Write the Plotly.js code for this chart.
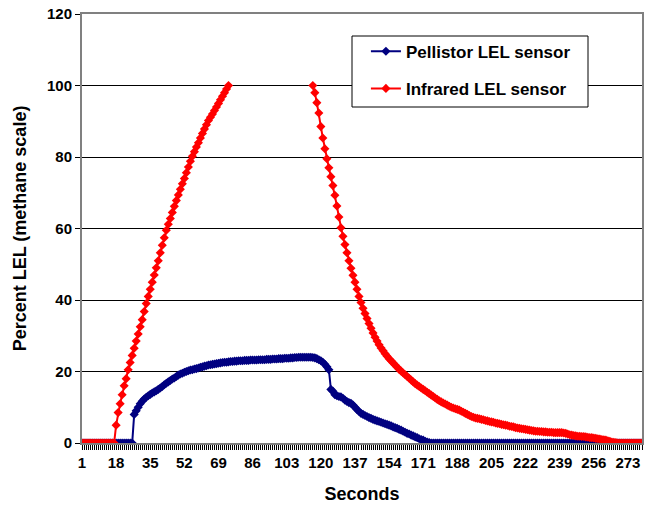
<!DOCTYPE html>
<html>
<head>
<meta charset="utf-8">
<script src="https://cdn.plot.ly/plotly-3.0.1.min.js"></script>
<style>html,body{margin:0;padding:0;background:#fff;}#chart{width:652px;height:506px;}</style>
</head>
<body>
<div id="chart"></div>
<script>
// Tick labels shown on the x axis (seconds)
const xTickLabels = ['1','18','35','52','69','86','103','120','137','154','171','188','205','222','239','256','273'];
const yTickValues = [0,20,40,60,80,100,120];
const seriesNames = ['Pellistor LEL sensor','Infrared LEL sensor'];

// Pellistor LEL sensor, one value per second (1..280)
const pellistor = [
0,0,0,0,0,0,0,0,0,0,
0,0,0,0,0,0,0,0,0,0,
0,0,0,0,0,0,8,9,10,11,
11.7,12.3,12.8,13.2,13.6,14,14.3,14.6,15,15.4,
15.8,16.3,16.7,17.1,17.5,17.9,18.2,18.6,19,19.3,
19.5,19.8,20,20.2,20.4,20.5,20.7,20.8,21,21.2,
21.3,21.5,21.6,21.8,21.9,22,22.1,22.2,22.3,22.4,
22.5,22.6,22.6,22.7,22.8,22.8,22.9,22.9,23,23,
23,23.1,23.1,23.1,23.2,23.2,23.2,23.2,23.3,23.3,
23.3,23.3,23.4,23.4,23.4,23.5,23.5,23.5,23.6,23.6,
23.6,23.7,23.7,23.7,23.8,23.8,23.9,23.9,24,24,
24,24,24,24,24,23.9,23.8,23.6,23.3,23,
22.6,22,21.3,20.5,15,14.5,13.5,13.2,13,12.9,
12.5,12,11.6,11.3,11.1,10.6,10,9.4,8.8,8.3,
8,7.7,7.4,7.1,6.9,6.6,6.4,6.2,6,5.8,
5.6,5.4,5.2,5,4.8,4.5,4.3,4.1,3.8,3.6,
3.3,3,2.7,2.5,2.2,2,1.7,1.5,1.2,1,
0.8,0.5,0.3,0.1,0,0,0,0,0,0,
0,0,0,0,0,0,0,0,0,0,
0,0,0,0,0,0,0,0,0,0,
0,0,0,0,0,0,0,0,0,0,
0,0,0,0,0,0,0,0,0,0,
0,0,0,0,0,0,0,0,0,0,
0,0,0,0,0,0,0,0,0,0,
0,0,0,0,0,0,0,0,0,0,
0,0,0,0,0,0,0,0,0,0,
0,0,0,0,0,0,0,0,0,0,
0,0,0,0,0,0,0,0,0,0
];

// Infrared LEL sensor, one value per second (1..280); over-range readings are missing
const infrared = [
0,0,0,0,0,0,0,0,0,0,
0,0,0,0,0,0,0,5,8.5,11,
13.5,16,18,20.5,22.5,24.5,26.5,28.5,30.5,32.5,
34.5,36.8,39,41,43,45,47,49,51,53.2,
55.3,57.4,59.5,61.2,62.8,64.5,66.2,67.8,69.4,71,
72.5,74,75.6,77.2,78.8,80.2,81.5,82.8,84,85.3,
86.6,87.8,89,90.2,91.1,92,93,94,95,96,
97,98,99,100,null,null,null,null,null,null,
null,null,null,null,null,null,null,null,null,null,
null,null,null,null,null,null,null,null,null,null,
null,null,null,null,null,null,null,null,null,null,
null,null,null,null,null,100,98,95.2,92.3,88.5,
85.3,82.3,79.5,77,74.5,72,69.3,66.3,63.2,60.2,
57.8,55.5,53.2,51,48.9,46.9,45,43,41,39.3,
37.7,36.2,34.8,33.4,32.1,30.8,29.6,28.5,27.5,26.6,
25.8,25,24.3,23.6,23,22.4,21.8,21.2,20.6,20.1,
19.6,19.1,18.6,18.1,17.6,17.1,16.6,16.2,15.8,15.4,
15,14.6,14.2,13.8,13.4,13,12.6,12.2,11.8,11.5,
11.2,10.9,10.6,10.3,10,9.8,9.6,9.4,9.2,8.9,
8.6,8.3,8,7.7,7.4,7.2,7,6.9,6.8,6.6,
6.5,6.3,6.2,6,5.9,5.8,5.6,5.5,5.4,5.2,
5.1,5,4.9,4.7,4.6,4.5,4.3,4.2,4.1,4,
3.9,3.8,3.7,3.6,3.5,3.4,3.3,3.3,3.2,3.2,
3.1,3.1,3,3,3,2.9,2.9,2.9,2.9,2.9,
2.8,2.7,2.5,2.3,2.2,2.1,2,1.9,1.9,1.8,
1.8,1.7,1.6,1.5,1.5,1.4,1.3,1.2,1.1,1,
0.9,0.8,0.6,0.5,0.3,0.2,0.1,0,0,0,
0,0,0,0,0,0,0,0,0,0
];

const seconds = pellistor.map((_, i) => i + 1);
const tickvals = seconds.slice();
const ticktext = seconds.map(s => xTickLabels.includes(String(s)) ? String(s) : '');

const FONT = 'Liberation Sans, Arial, sans-serif';

const traces = [
  {
    x: seconds, y: pellistor, name: seriesNames[0], type: 'scatter', mode: 'lines+markers',
    line: {color: '#000080', width: 2}, marker: {symbol: 'diamond', size: 7, color: '#000080'},
    legendgroup: 'a', connectgaps: false
  },
  {
    x: seconds, y: infrared, name: seriesNames[1], type: 'scatter', mode: 'lines+markers',
    line: {color: '#FF0000', width: 2}, marker: {symbol: 'diamond', size: 7, color: '#FF0000'},
    legendgroup: 'b', connectgaps: false
  }
];

const layout = {
  width: 652, height: 506,
  margin: {l: 82, r: 10, t: 14, b: 63},
  paper_bgcolor: '#fff', plot_bgcolor: '#fff',
  font: {family: FONT, color: '#000'},
  showlegend: true,
  legend: {
    x: 0.507, y: 0.954, xanchor: 'left', yanchor: 'top',
    bgcolor: 'rgba(0,0,0,0)', borderwidth: 0,
    font: {family: FONT, size: 17, color: '#000', weight: 'bold'},
    traceorder: 'grouped', tracegroupgap: 12
  },
  shapes: [{
    type: 'rect', xref: 'paper', yref: 'paper',
    x0: (352-82)/560, x1: (588-82)/560, y0: (443-107)/429, y1: (443-36)/429,
    line: {color: '#000', width: 1}, fillcolor: '#fff', layer: 'above'
  }],
  xaxis: {
    range: [1, 280], tickmode: 'array', tickvals: tickvals, ticktext: ticktext,
    ticks: 'outside', ticklen: 5, tickwidth: 1, tickcolor: '#000',
    showline: true, linecolor: '#808080', linewidth: 2, mirror: true,
    showgrid: false, zeroline: false,
    tickfont: {family: FONT, size: 15, color: '#000', weight: 'bold'},
    title: {text: 'Seconds', font: {family: FONT, size: 18, color: '#000', weight: 'bold'}, standoff: 17},
    automargin: false
  },
  yaxis: {
    range: [0, 120], tickmode: 'array', tickvals: yTickValues,
    ticks: 'outside', ticklen: 5, tickwidth: 1, tickcolor: '#000',
    showline: true, linecolor: '#808080', linewidth: 2, mirror: true,
    showgrid: true, gridcolor: '#000', gridwidth: 1, zeroline: false,
    tickfont: {family: FONT, size: 15, color: '#000', weight: 'bold'},
    title: {text: 'Percent LEL (methane scale)', font: {family: FONT, size: 18, color: '#000', weight: 'bold'}, standoff: 16},
    automargin: false
  }
};

Plotly.newPlot('chart', traces, layout, {displayModeBar: false, staticPlot: true});
</script>
</body>
</html>
